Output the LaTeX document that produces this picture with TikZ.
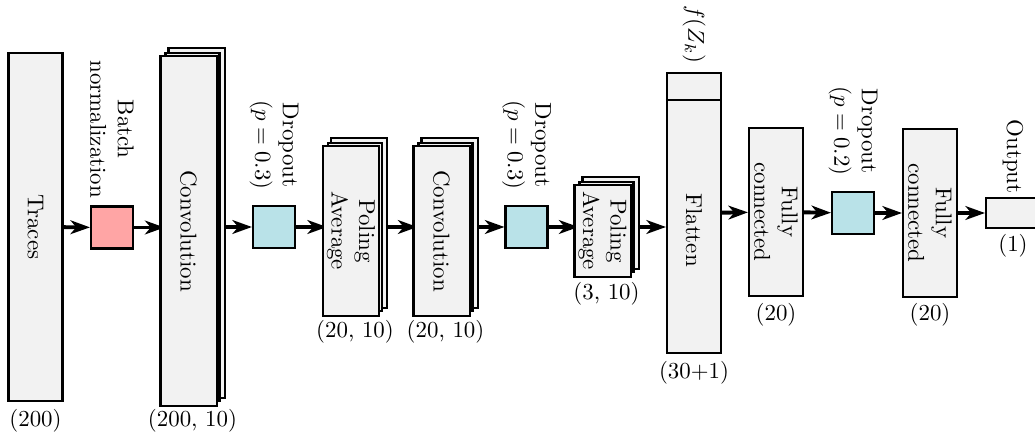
\documentclass[tikz,border=0pt]{standalone}
\usetikzlibrary{arrows.meta,backgrounds}

% one drawing unit
\def\u{0.4367pt}
\definecolor{boxgray}{gray}{0.95}
\definecolor{bnpink}{RGB}{255,165,165}
\definecolor{dropblue}{RGB}{185,226,232}

\begin{document}
\begin{tikzpicture}[x=\u, y=-\u,
  block/.style={draw, line width=0.9pt, fill=boxgray, inner sep=0pt, minimum width=54*\u},
  layer/.style={draw, line width=0.9pt, fill=boxgray},
  sq/.style={draw, line width=0.9pt, inner sep=0pt, minimum width=42*\u, minimum height=42*\u},
  lab/.style={rotate=-90, align=center, inner sep=0pt},
  dim/.style={anchor=north, inner sep=0pt},
  arr/.style={line width=1.7pt, -{Stealth[length=8.5pt,width=6pt,inset=2.5pt]}},
]
\useasboundingbox (0,0) rectangle (1035,432);

% ---- blocks ----
\node[block, minimum height=348*\u] (tr) at (35.5,227) {};
\node[sq, fill=bnpink] (bn) at (112,227.5) {};
\node[block, minimum height=348*\u] (c1) at (192.5,227) {};
\draw[layer] ([shift={(-4,4)}]c1.south west) rectangle ([shift={(-4,4)}]c1.north east);
\node[sq, fill=dropblue] (d1) at (274,227) {};
\node[block, minimum height=168*\u] (p1) at (355,227) {};
\draw[layer] ([shift={(-4,4)}]p1.south west) rectangle ([shift={(-4,4)}]p1.north east);
\node[block, minimum height=168*\u] (c2) at (445.5,227) {};
\draw[layer] ([shift={(-4,4)}]c2.south west) rectangle ([shift={(-4,4)}]c2.north east);
\node[sq, fill=dropblue] (d2) at (526.5,227) {};
\node[block, minimum height=90*\u] (p2) at (606.5,227) {};
\draw[layer] ([shift={(-4,4)}]p2.south west) rectangle ([shift={(-4,4)}]p2.north east);
\node[block, minimum height=280*\u] (fl) at (694,213) {};
\draw[line width=0.9pt] ([shift={(0,28)}]fl.north west) -- ([shift={(0,28)}]fl.north east);
\node[block, minimum height=168*\u] (f1) at (776,212) {};
\node[sq, fill=dropblue] (d3) at (853,213) {};
\node[block, minimum height=168*\u] (f2) at (930,213) {};
\node[block, minimum height=30*\u] (out) at (1013,213) {};

% ---- texts inside the blocks ----
\node[lab] at (tr) {Traces};
\node[lab] at ([shift={(-4,4)}]c1.center) {Convolution};
\node[lab] at ([shift={(-4,4)}]p1.center) {Poling\\Average};
\node[lab] at ([shift={(-4,4)}]c2.center) {Convolution};
\node[lab] at ([shift={(-4,4)}]p2.center) {Poling\\Average};
\node[lab] at ([shift={(0,17)}]fl.center) {Flatten};
\node[lab] at (f1) {Fully\\connected};
\node[lab] at (f2) {Fully\\connected};

% ---- texts above the blocks ----
\node[lab, anchor=east] at ([shift={(0,-7)}]bn.north) {Batch\\normalization};
\node[lab, anchor=east] at ([shift={(0,-15)}]d1.north) {Dropout\\($p=0.3$)};
\node[lab, anchor=east] at ([shift={(0,-15)}]d2.north) {Dropout\\($p=0.3$)};
\node[lab, anchor=east] at ([shift={(0,-8)}]fl.north) {$f(Z_k)$};
\node[lab, anchor=east] at ([shift={(0,-15)}]d3.north) {Dropout\\($p=0.2$)};
\node[lab, anchor=east] at ([shift={(0,-3)}]out.north) {Output};

% ---- sizes below the blocks ----
\node[dim] at ([shift={(0,7)}]tr.south) {(200)};
\node[dim] at ([shift={(0,7)}]c1.south) {(200, 10)};
\node[dim] at ([shift={(0,8)}]p1.south) {(20, 10)};
\node[dim] at ([shift={(0,8)}]c2.south) {(20, 10)};
\node[dim] at ([shift={(0,9)}]p2.south) {(3, 10)};
\node[dim] at ([shift={(0,7)}]fl.south) {(30+1)};
\node[dim] at ([shift={(0,6)}]f1.south) {(20)};
\node[dim] at ([shift={(0,5)}]f2.south) {(20)};
\node[dim] at ([shift={(0,5)}]out.south) {(1)};

% ---- connectors and rear layers ----
\begin{scope}[on background layer]
  \draw[arr] (tr) -- (bn);
  \draw[arr] (bn.east) -- (bn.east -| c1.west);
  \draw[arr] (c1) -- (d1);
  \draw[arr] (d1) -- (p1);
  \draw[arr] (p1) -- (c2);
  \draw[arr] (c2) -- (d2);
  \draw[arr] (d2) -- (p2);
  \draw[arr] (p2.east) -- (p2.east -| fl.west);
  \draw[arr] (fl) -- (f1);
  \draw[arr] (f1) -- (d3);
  \draw[arr] (d3) -- (f2);
  \draw[arr] (f2) -- (out);
  \foreach \n in {c1,p1,c2,p2}
    \draw[layer] ([shift={(4,-4)}]\n.south west) rectangle ([shift={(4,-4)}]\n.north east);
\end{scope}
\end{tikzpicture}
\end{document}
